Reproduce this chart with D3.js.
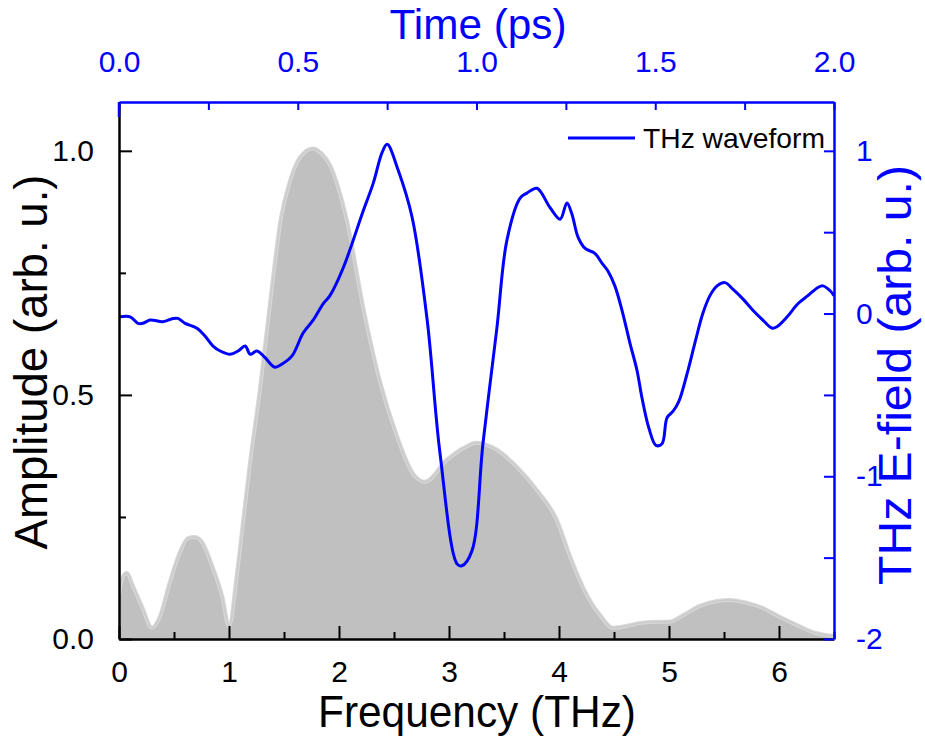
<!DOCTYPE html>
<html>
<head>
<meta charset="utf-8">
<script src="https://cdn.jsdelivr.net/npm/d3@7"></script>
<style>
  html, body { margin: 0; padding: 0; background: #ffffff; }
  svg { display: block; font-family: "Liberation Sans", Arial, sans-serif; }
</style>
</head>
<body>
<svg id="chart" width="925" height="742"></svg>
<script>
// ---- Data ----
const freqTHz = [0, 0.03, 0.07, 0.13, 0.21, 0.30, 0.37, 0.46, 0.55, 0.63, 0.69, 0.76, 0.85, 0.94, 1.00,
  1.07, 1.13, 1.19, 1.28, 1.40, 1.47, 1.55, 1.64, 1.76, 1.84, 1.92, 2.00, 2.07, 2.22, 2.37, 2.53, 2.67,
  2.78, 2.98, 3.13, 3.25, 3.44, 3.62, 3.80, 3.98, 4.10, 4.20, 4.30, 4.37, 4.49, 4.62, 4.74, 4.85, 5.01,
  5.13, 5.28, 5.44, 5.55, 5.71, 5.85, 6.01, 6.16, 6.31, 6.50];
const amplitude = [0.09, 0.125, 0.135, 0.107, 0.066, 0.023, 0.045, 0.115, 0.176, 0.207, 0.209, 0.197, 0.148, 0.086, 0.026,
  0.13, 0.245, 0.36, 0.51, 0.74, 0.86, 0.935, 0.985, 1.005, 0.995, 0.97, 0.92, 0.86, 0.68, 0.53, 0.414, 0.34,
  0.322, 0.367, 0.391, 0.402, 0.387, 0.352, 0.305, 0.244, 0.17, 0.115, 0.072, 0.05, 0.023, 0.027, 0.033, 0.035, 0.036,
  0.049, 0.068, 0.078, 0.080, 0.074, 0.064, 0.045, 0.029, 0.014, 0.006];

const timePs = [0.003, 0.031, 0.053, 0.067, 0.087, 0.123, 0.151, 0.165, 0.185, 0.218, 0.241, 0.263, 0.283, 0.311,
  0.333, 0.353, 0.367, 0.386, 0.408, 0.436, 0.456, 0.484, 0.515, 0.543, 0.571, 0.590, 0.627, 0.683, 0.711, 0.736,
  0.750, 0.781, 0.820, 0.862, 0.898, 0.946, 0.959, 0.987, 1.018, 1.057, 1.085, 1.122, 1.141, 1.169, 1.206, 1.234,
  1.253, 1.267, 1.284, 1.304, 1.331, 1.351, 1.368, 1.387, 1.407, 1.429, 1.449, 1.463, 1.483, 1.502, 1.519, 1.533,
  1.550, 1.566, 1.589, 1.611, 1.633, 1.653, 1.673, 1.695, 1.717, 1.745, 1.773, 1.801, 1.827, 1.841, 1.869, 1.899,
  1.927, 1.955, 1.969, 1.989, 2.0];
const eField = [-0.02, -0.02, -0.06, -0.06, -0.04, -0.05, -0.03, -0.03, -0.06, -0.09, -0.14, -0.20, -0.23, -0.25,
  -0.23, -0.20, -0.25, -0.23, -0.27, -0.33, -0.31, -0.26, -0.12, -0.04, 0.06, 0.11, 0.28, 0.63, 0.80, 0.99,
  1.04, 0.88, 0.59, -0.04, -0.86, -1.54, -1.55, -1.46, -0.80, -0.09, 0.45, 0.71, 0.74, 0.77, 0.65, 0.58,
  0.68, 0.61, 0.47, 0.40, 0.37, 0.31, 0.26, 0.17, 0.02, -0.18, -0.35, -0.52, -0.71, -0.81, -0.80, -0.64,
  -0.60, -0.54, -0.37, -0.18, 0.0, 0.11, 0.17, 0.19, 0.15, 0.09, 0.02, -0.04, -0.09, -0.08, -0.02, 0.06,
  0.11, 0.16, 0.17, 0.14, 0.11];

const freqTicks = [0, 1, 2, 3, 4, 5, 6];
const freqMinor = [0.5, 1.5, 2.5, 3.5, 4.5, 5.5, 6.5];
const ampTicks = [0.0, 0.5, 1.0];
const ampMinor = [0.25, 0.75];
const timeTicks = [0.0, 0.5, 1.0, 1.5, 2.0];
const timeMinor = [0.25, 0.75, 1.25, 1.75];
const fieldTicks = [-2, -1, 0, 1];
const fieldMinor = [-1.5, -0.5, 0.5];

const legendLabel = "THz waveform";

// ---- Layout ----
const L = 119, R = 834, T = 102, B = 639;
const BLUE = "#0000ff";

const svg = d3.select("#chart");

const x = d3.scaleLinear().domain([0, 6.5]).range([L, R]);
const xt = d3.scaleLinear().domain([0, 2.0]).range([L, R]);
const yA = d3.scaleLinear().domain([0, 1.1]).range([B, T]);
const yE = d3.scaleLinear().domain([-2, 1.3]).range([B, T]);

// clip
svg.append("defs").append("clipPath").attr("id", "plotclip")
  .append("rect").attr("x", L).attr("y", T).attr("width", R - L).attr("height", B - T);

const specData = freqTHz.map((f, i) => ({ f, a: amplitude[i] }));
const waveData = timePs.map((t, i) => ({ t, e: eField[i] }));

const gPlot = svg.append("g").attr("clip-path", "url(#plotclip)");

const area = d3.area()
  .x(d => x(d.f)).y0(yA(0)).y1(d => yA(d.a))
  .curve(d3.curveMonotoneX);
const edge = d3.line()
  .x(d => x(d.f)).y(d => yA(d.a))
  .curve(d3.curveMonotoneX);

gPlot.append("path").datum(specData).attr("d", area)
  .attr("fill", "#c0c0c0");
gPlot.append("path").datum(specData).attr("d", edge)
  .attr("fill", "none").attr("stroke", "#d7d7d7").attr("stroke-width", 4);
gPlot.append("path").datum(specData).attr("d", edge)
  .attr("fill", "none").attr("stroke", "#cbcbcb").attr("stroke-width", 1.5);

const wave = d3.line()
  .x(d => xt(d.t)).y(d => yE(d.e))
  .curve(d3.curveCatmullRom.alpha(0.5));
gPlot.append("path").datum(waveData).attr("d", wave)
  .attr("fill", "none").attr("stroke", BLUE).attr("stroke-width", 3)
  .attr("stroke-linejoin", "round");

// ---- Axes ----
function styleAxis(g, color, width) {
  g.select(".domain").attr("stroke", color).attr("stroke-width", width);
  g.selectAll(".tick line").attr("stroke", color).attr("stroke-width", 2);
  g.selectAll(".tick text").attr("fill", color);
}

// Bottom (black)
const gBm = svg.append("g").attr("transform", `translate(0,${B})`)
  .call(d3.axisBottom(x).tickValues(freqMinor).tickSizeInner(-7).tickSizeOuter(0).tickFormat(""));
gBm.select(".domain").remove();
gBm.selectAll(".tick line").attr("stroke", "#000").attr("stroke-width", 2);
const gB = svg.append("g").attr("transform", `translate(0,${B})`)
  .call(d3.axisBottom(x).tickValues(freqTicks).tickSizeInner(-13).tickSizeOuter(0)
    .tickPadding(22).tickFormat(d3.format("d")));
styleAxis(gB, "#000", 2.5);
gB.selectAll(".tick text").attr("font-size", 30).attr("dy", "0.71em");

// Left (black)
const gLm = svg.append("g").attr("transform", `translate(${L},0)`)
  .call(d3.axisLeft(yA).tickValues(ampMinor).tickSizeInner(-7).tickSizeOuter(0).tickFormat(""));
gLm.select(".domain").remove();
gLm.selectAll(".tick line").attr("stroke", "#000").attr("stroke-width", 2);
const gL = svg.append("g").attr("transform", `translate(${L},0)`)
  .call(d3.axisLeft(yA).tickValues(ampTicks).tickSizeInner(-13).tickSizeOuter(0)
    .tickPadding(25).tickFormat(d3.format(".1f")));
styleAxis(gL, "#000", 2.5);
gL.selectAll(".tick text").attr("font-size", 30);

// Top (blue)
const gT = svg.append("g").attr("transform", `translate(0,${T})`)
  .call(d3.axisTop(xt).tickValues(timeTicks.concat(timeMinor)).tickSizeInner(-8).tickSizeOuter(0)
    .tickPadding(30).tickFormat(d => timeTicks.includes(d) ? d3.format(".1f")(d) : ""));
styleAxis(gT, BLUE, 2.5);
gT.selectAll(".tick text").attr("font-size", 30);

// Right (blue)
const gR = svg.append("g").attr("transform", `translate(${R},0)`)
  .call(d3.axisRight(yE).tickValues(fieldTicks.concat(fieldMinor)).tickSizeInner(-10).tickSizeOuter(0)
    .tickPadding(22).tickFormat(d => fieldTicks.includes(d) ? d3.format("d")(d).replace("\u2212", "-") : ""));
styleAxis(gR, BLUE, 2.5);
gR.selectAll(".tick text").attr("font-size", 30);

// small blue corner segment at top-left
svg.append("line").attr("x1", L).attr("x2", L).attr("y1", T).attr("y2", T + 15)
  .attr("stroke", BLUE).attr("stroke-width", 2.5);

// ---- Titles ----
svg.append("text").attr("x", 477).attr("y", 727).attr("text-anchor", "middle")
  .attr("font-size", 44).attr("fill", "#000")
  .attr("textLength", 318).attr("lengthAdjust", "spacingAndGlyphs")
  .text("Frequency (THz)");
svg.append("text").attr("x", 478).attr("y", 39).attr("text-anchor", "middle")
  .attr("font-size", 43).attr("fill", BLUE)
  .attr("textLength", 177).attr("lengthAdjust", "spacingAndGlyphs")
  .text("Time (ps)");
svg.append("text").attr("transform", "translate(47,362) rotate(-90)").attr("text-anchor", "middle")
  .attr("font-size", 46).attr("fill", "#000")
  .attr("textLength", 375).attr("lengthAdjust", "spacingAndGlyphs")
  .text("Amplitude (arb. u.)");
svg.append("text").attr("transform", "translate(911,375) rotate(-90)").attr("text-anchor", "middle")
  .attr("font-size", 46).attr("fill", BLUE)
  .attr("textLength", 420).attr("lengthAdjust", "spacingAndGlyphs")
  .text("THz E-field (arb. u.)");

// ---- Legend ----
svg.append("line").attr("x1", 568).attr("x2", 635).attr("y1", 138).attr("y2", 138)
  .attr("stroke", BLUE).attr("stroke-width", 3);
svg.append("text").attr("x", 643).attr("y", 148).attr("font-size", 28).attr("fill", "#000")
  .attr("textLength", 182).attr("lengthAdjust", "spacingAndGlyphs")
  .text(legendLabel);
</script>
</body>
</html>
